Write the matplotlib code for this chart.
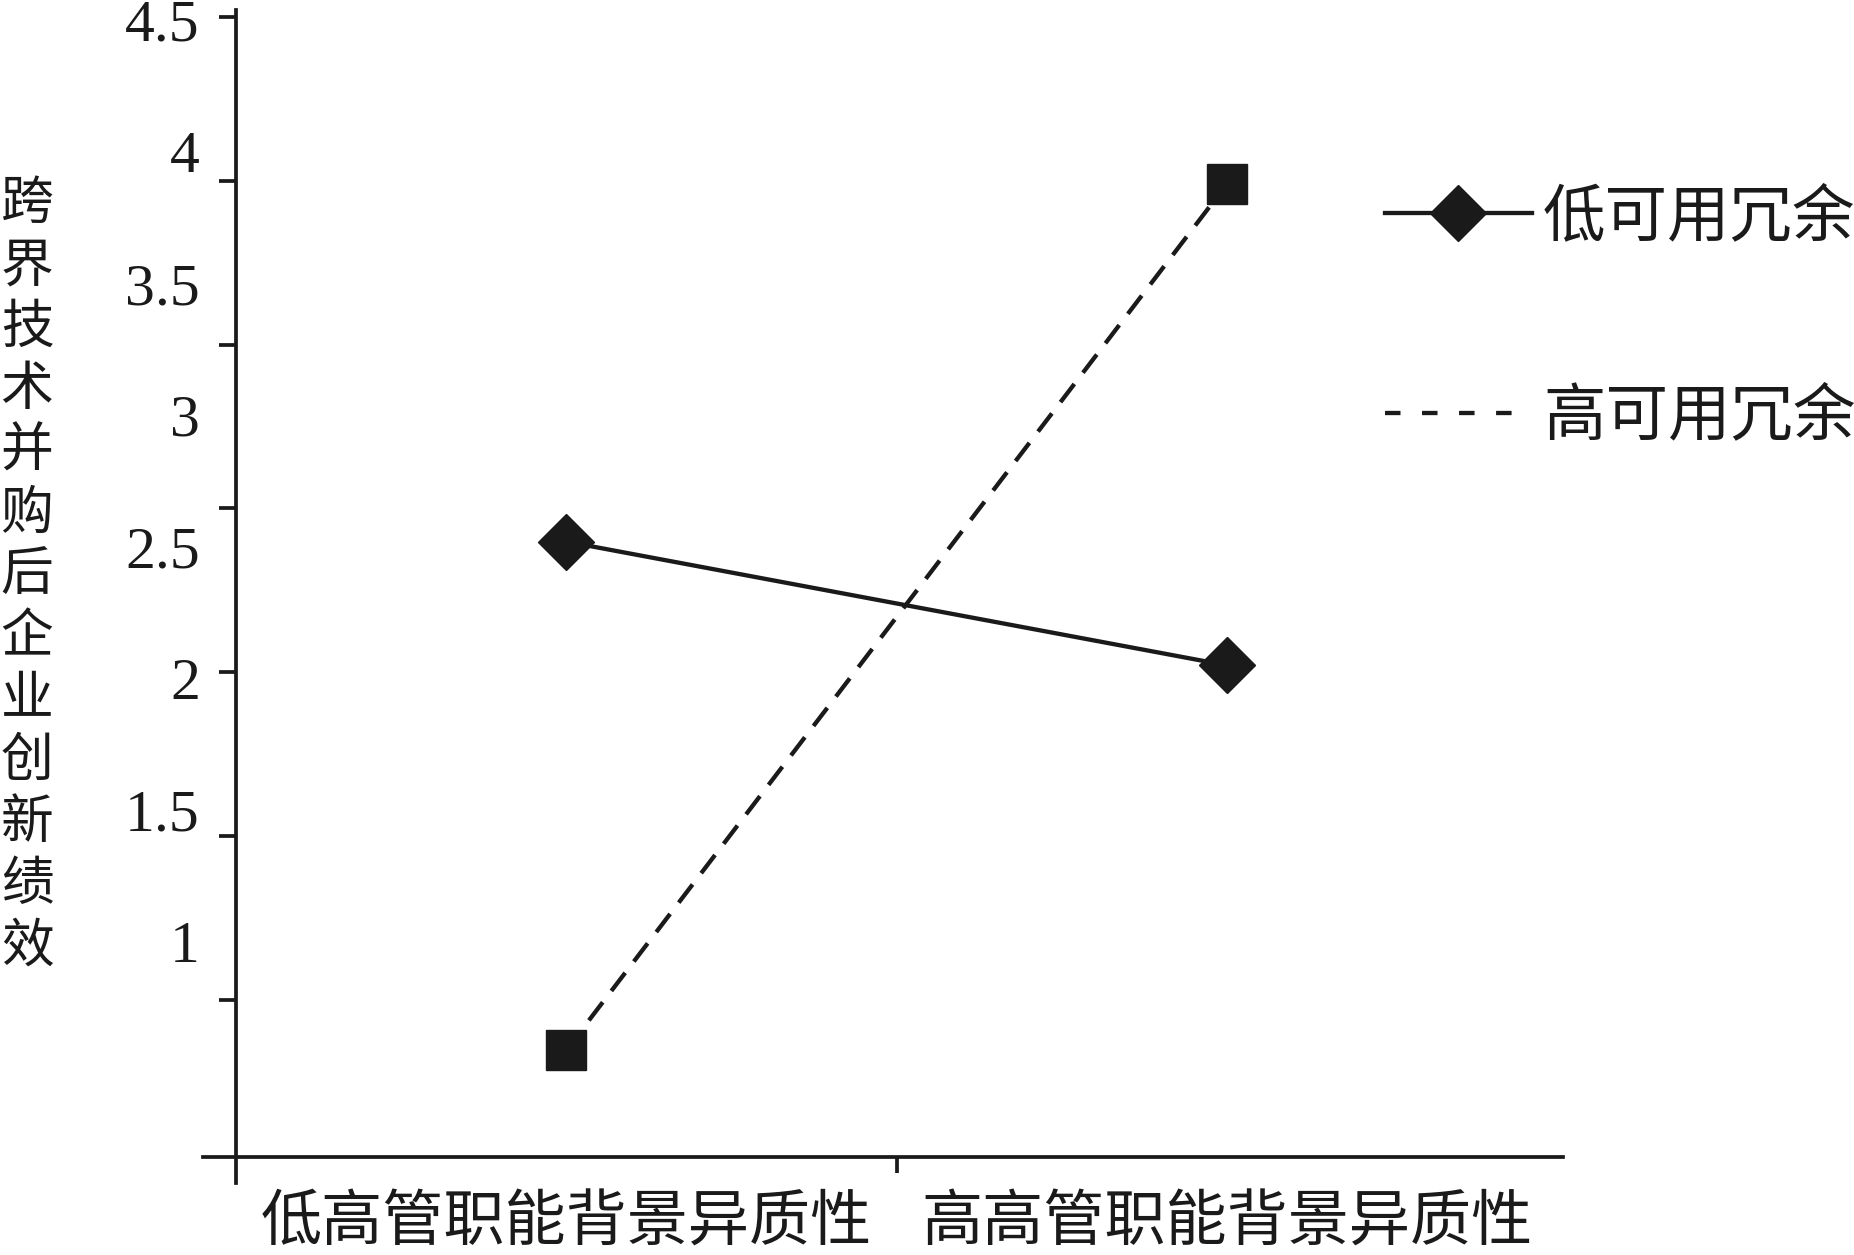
import numpy as np
import matplotlib
matplotlib.use("Agg")
import matplotlib.pyplot as plt
from matplotlib.lines import Line2D

# --- dados ---
categorias = ['低高管职能背景异质性', '高高管职能背景异质性']
x_pos = [0.5, 1.5]
baixo_redund = [2.52, 2.05]   # 低可用冗余
alto_redund = [0.59, 3.88]    # 高可用冗余
nomes_series = ['低可用冗余', '高可用冗余']
y_rotulos = [1, 1.5, 2, 2.5, 3, 3.5, 4, 4.5]
y_marcas = [1.5, 2, 2.5, 3, 3.5, 4, 4.5]
titulo_y = '跨界技术并购后企业创新绩效'

plt.rcParams['font.family'] = ['Noto Sans CJK SC', 'DejaVu Sans']
cor = '#1a1a1a'
lw = 3.1

fig = plt.figure(figsize=(18.54, 12.55), dpi=100)
ax = fig.add_axes([0.1095, 0.0781, 0.7335, 0.9139])
ax2 = ax.twinx()

ax.set_xlim(-0.05, 2.008)
ax.set_ylim(0.183, 4.539)
ax2.set_ylim(1.020, 4.521)

# linhas
ax.plot(x_pos, baixo_redund, color=cor, lw=lw, marker='D', ms=29,
        markerfacecolor=cor, markeredgecolor=cor, zorder=5)
ax.plot(x_pos, alto_redund, color=cor, lw=lw, linestyle=(0, (5.3, 3.3)),
        marker='s', ms=28.5, markerfacecolor=cor, markeredgecolor=cor, zorder=5)

# eixos
for s in ['top', 'right', 'left']:
    ax.spines[s].set_visible(False)
    ax2.spines[s].set_visible(s == 'left')
ax2.spines['bottom'].set_visible(False)
ax.spines['bottom'].set_linewidth(2.7)
ax.spines['bottom'].set_color(cor)
ax.spines['left'].set_position(('data', 0))
ax2.spines['left'].set_position(('data', 0))
ax2.spines['left'].set_linewidth(2.7)
ax2.spines['left'].set_color(cor)
ax2.spines['left'].set_bounds(0.94, 4.521)
ax2.yaxis.set_ticks_position('left')
ax2.set_yticks(y_marcas)
ax2.set_yticklabels([])
ax2.tick_params(axis='y', length=12, width=2.7, color=cor)

ax.set_yticks(y_rotulos)
ax.set_yticklabels([f'{v:g}' for v in y_rotulos], family='Liberation Serif',
                   fontsize=43, color=cor)
ax.tick_params(axis='y', length=0, pad=26)

ax.set_xticks([1])
ax.set_xticklabels([''])
ax.tick_params(axis='x', which='major', length=11.5, width=2.7, color=cor)
ax.set_xticks(x_pos, minor=True)
ax.set_xticklabels(categorias, minor=True, fontsize=44, color=cor)
ax.tick_params(axis='x', which='minor', length=0, pad=25)

# titulo do eixo y, caracteres empilhados
fig.text(27 / 1854, 1 - 575 / 1255, '\n'.join(titulo_y), ha='center',
         va='center', fontsize=38, color=cor, linespacing=1.16)

# legenda
handles = [
    Line2D([], [], color=cor, lw=lw, marker='D', ms=29),
    Line2D([], [], color=cor, lw=lw, linestyle=(0, (3.6, 5.0))),
]
ax.legend(handles, nomes_series, loc='upper left', frameon=False,
          bbox_to_anchor=(1385 / 1854, 1 - 185 / 1255),
          bbox_transform=fig.transFigure, fontsize=45, borderpad=0,
          borderaxespad=0, handlelength=2.35, handletextpad=0.18,
          labelspacing=2.17, labelcolor=cor)

fig.savefig('out.png', dpi=100)
